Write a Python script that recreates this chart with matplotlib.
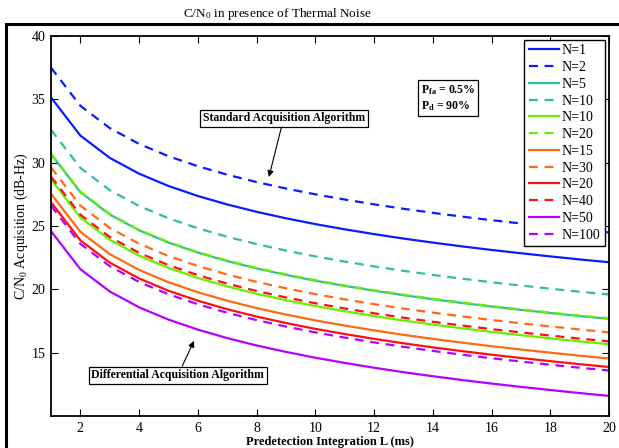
import matplotlib
matplotlib.use("Agg")
import matplotlib.pyplot as plt
from matplotlib.patches import Rectangle

plt.rcParams['font.family'] = ['Liberation Serif', 'DejaVu Serif']
plt.rcParams['mathtext.fontset'] = 'custom'
plt.rcParams['mathtext.rm'] = 'Liberation Serif'
plt.rcParams['mathtext.it'] = 'Liberation Serif:italic'
plt.rcParams['mathtext.bf'] = 'Liberation Serif:bold'

L = list(range(1, 21))

n1 = [35.15, 32.14, 30.38, 29.13, 28.16, 27.37, 26.70, 26.12, 25.61, 25.15,
      24.74, 24.36, 24.01, 23.69, 23.39, 23.11, 22.85, 22.60, 22.36, 22.14]
n2 = [37.50, 34.49, 32.73, 31.48, 30.51, 29.72, 29.05, 28.47, 27.96, 27.50,
      27.09, 26.71, 26.36, 26.04, 25.74, 25.46, 25.20, 24.95, 24.71, 24.49]
n5 = [30.68, 27.67, 25.91, 24.66, 23.69, 22.90, 22.23, 21.65, 21.14, 20.68,
      20.27, 19.89, 19.54, 19.22, 18.92, 18.64, 18.38, 18.13, 17.89, 17.67]
n10d = [32.60, 29.59, 27.83, 26.58, 25.61, 24.82, 24.15, 23.57, 23.06, 22.60,
        22.19, 21.81, 21.46, 21.14, 20.84, 20.56, 20.30, 20.05, 19.81, 19.59]
n10 = [28.68, 25.67, 23.91, 22.66, 21.69, 20.90, 20.23, 19.65, 19.14, 18.68,
       18.27, 17.89, 17.54, 17.22, 16.92, 16.64, 16.38, 16.13, 15.89, 15.67]
n20d = [30.72, 27.71, 25.95, 24.70, 23.73, 22.94, 22.27, 21.69, 21.18, 20.72,
        20.31, 19.93, 19.58, 19.26, 18.96, 18.68, 18.42, 18.17, 17.93, 17.71]
n15 = [27.55, 24.54, 22.78, 21.53, 20.56, 19.77, 19.10, 18.52, 18.01, 17.55,
       17.14, 16.76, 16.41, 16.09, 15.79, 15.51, 15.25, 15.00, 14.76, 14.54]
n30d = [29.62, 26.61, 24.85, 23.60, 22.63, 21.84, 21.17, 20.59, 20.08, 19.62,
        19.21, 18.83, 18.48, 18.16, 17.86, 17.58, 17.32, 17.07, 16.83, 16.61]
n20 = [26.88, 23.87, 22.11, 20.86, 19.89, 19.10, 18.43, 17.85, 17.34, 16.88,
       16.47, 16.09, 15.74, 15.42, 15.12, 14.84, 14.58, 14.33, 14.09, 13.87]
n40d = [28.90, 25.89, 24.13, 22.88, 21.91, 21.12, 20.45, 19.87, 19.36, 18.90,
        18.49, 18.11, 17.76, 17.44, 17.14, 16.86, 16.60, 16.35, 16.11, 15.89]
n50 = [24.60, 21.59, 19.83, 18.58, 17.61, 16.82, 16.15, 15.57, 15.06, 14.60,
       14.19, 13.81, 13.46, 13.14, 12.84, 12.56, 12.30, 12.05, 11.81, 11.59]
n100d = [26.60, 23.59, 21.83, 20.58, 19.61, 18.82, 18.15, 17.57, 17.06, 16.60,
         16.19, 15.81, 15.46, 15.14, 14.84, 14.56, 14.30, 14.05, 13.81, 13.59]

labels = ['N=1', 'N=2', 'N=5', 'N=10', 'N=10', 'N=20', 'N=15', 'N=30',
          'N=20', 'N=40', 'N=50', 'N=100']
series = [n1, n2, n5, n10d, n10, n20d, n15, n30d, n20, n40d, n50, n100d]
colors = ['#0a1cff', '#0a1cff', '#33c08f', '#33c08f', '#66f000', '#66f000',
          '#ff6a10', '#ff6a10', '#ff1010', '#ff1010', '#b400ff', '#b400ff']
styles = ['-', '--'] * 6

xticks = [2, 4, 6, 8, 10, 12, 14, 16, 18, 20]
yticks = [15, 20, 25, 30, 35, 40]

fig = plt.figure(figsize=(6.19, 4.48), dpi=100)
ax = fig.add_axes([51/619, 1-416/448, (609-51)/619, (416-36)/448])

for y, lab, c, s in zip(series, labels, colors, styles):
    if s == '--':
        ax.plot(L, y, color=c, lw=1.6, linestyle=(0, (4, 3)), label=lab)
    else:
        ax.plot(L, y, color=c, lw=1.6, linestyle='-', label=lab)

ax.set_xlim(1, 20)
ax.set_ylim(10, 40)
ax.set_xticks(xticks)
ax.set_yticks(yticks)
ax.tick_params(direction='in', length=5, width=0.8, top=True, right=True,
               labelsize=10, pad=4)
for sp in ax.spines.values():
    sp.set_linewidth(1.3)

ax.set_xlabel('Predetection Integration L (ms)', fontsize=9, fontweight='bold',
              labelpad=1)
ax.set_ylabel('C/N$_0$ Acquisition (dB-Hz)', fontsize=10, labelpad=1)

leg = ax.legend(loc='upper right', fontsize=10, handlelength=2.2,
                handletextpad=0.2, labelspacing=0.27, borderpad=0.3,
                borderaxespad=0.3, fancybox=False, framealpha=1)
leg.get_frame().set_edgecolor('black')
leg.get_frame().set_linewidth(1.0)

bbox = dict(boxstyle='square,pad=0.25', fc='white', ec='black', lw=0.9)
ax.annotate('Standard Acquisition Algorithm', xy=(8.42, 28.87),
            xytext=(8.92, 33.49), ha='center', va='center', fontsize=8.5,
            fontweight='bold', bbox=bbox,
            arrowprops=dict(arrowstyle='-|>', color='black', lw=0.8,
                            mutation_scale=9, shrinkA=0, shrinkB=0))
ax.annotate('Differential Acquisition Algorithm', xy=(5.87, 15.93),
            xytext=(5.32, 13.2), ha='center', va='center', fontsize=8.5,
            fontweight='bold', bbox=bbox,
            arrowprops=dict(arrowstyle='-|>', color='black', lw=0.8,
                            mutation_scale=9, shrinkA=0, shrinkB=0))
ax.text(13.6, 35.1, '$\\mathbf{P_{fa}}$ = 0.5%\n$\\mathbf{P_{d}}$ = 90%',
        ha='left', va='center', fontsize=8.5, fontweight='bold',
        linespacing=1.3,
        bbox=dict(boxstyle='square,pad=0.25', fc='white', ec='black', lw=0.9))

fig.text(277/619, 1-14/448, 'C/N$_0$ in presence of Thermal Noise',
         ha='center', va='center', fontsize=9.5)

fig.patches.append(Rectangle((6/619, -0.2), 1.5, (1-24/448) + 0.2,
                             transform=fig.transFigure, fill=False,
                             ec='black', lw=2.2, clip_on=False))

fig.savefig('out.png', dpi=100)
